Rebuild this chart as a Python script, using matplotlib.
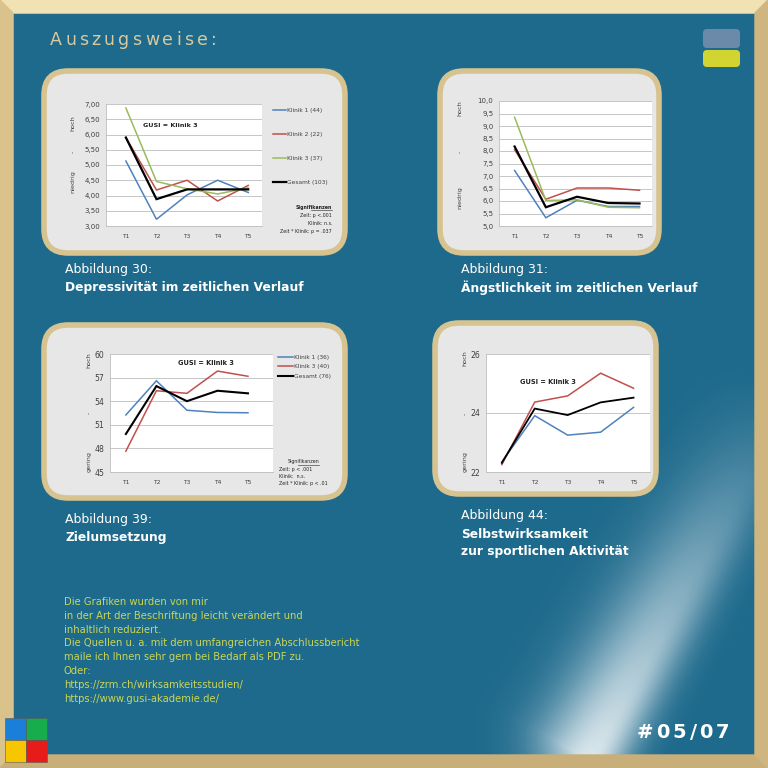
import numpy as np
import matplotlib.pyplot as plt
from matplotlib.patches import FancyBboxPatch, Polygon, Rectangle

# data
zeitpunkte = ['T1', 'T2', 'T3', 'T4', 'T5']

# Abbildung 30: Depressivitaet
dep_klinik1 = [5.13, 3.22, 4.02, 4.50, 4.10]
dep_klinik2 = [5.90, 4.18, 4.50, 3.82, 4.33]
dep_klinik3 = [6.87, 4.46, 4.22, 4.05, 4.25]
dep_gesamt = [5.90, 3.88, 4.20, 4.20, 4.20]
dep_labels = ['Klinik 1 (44)', 'Klinik 2 (22)', 'Klinik 3 (37)', 'Gesamt (103)']

# Abbildung 31: Aengstlichkeit
angst_klinik1 = [7.22, 5.33, 6.03, 5.78, 5.78]
angst_klinik2 = [8.05, 6.07, 6.52, 6.52, 6.43]
angst_klinik3 = [9.35, 6.02, 6.05, 5.75, 5.73]
angst_gesamt = [8.18, 5.75, 6.17, 5.92, 5.90]

# Abbildung 39: Zielumsetzung
ziel_klinik1 = [52.25, 56.60, 52.85, 52.57, 52.53]
ziel_klinik3 = [47.65, 55.33, 55.00, 57.83, 57.17]
ziel_gesamt = [49.83, 55.92, 54.00, 55.33, 55.00]
ziel_labels = ['Klinik 1 (36)', 'Klinik 3 (40)', 'Gesamt (76)']

# Abbildung 44: Selbstwirksamkeit
selbst_klinik1 = [22.34, 23.91, 23.25, 23.35, 24.19]
selbst_klinik3 = [22.25, 24.37, 24.58, 25.35, 24.84]
selbst_gesamt = [22.31, 24.15, 23.93, 24.36, 24.52]

fussnote = [
    'Die Grafiken wurden von mir',
    'in der Art der Beschriftung leicht verändert und',
    'inhaltlich reduziert.',
    'Die Quellen u. a. mit dem umfangreichen Abschlussbericht',
    'maile ich Ihnen sehr gern bei Bedarf als PDF zu.',
    'Oder:',
    'https://zrm.ch/wirksamkeitsstudien/',
    'https://www.gusi-akademie.de/',
]

BLAU = '#4f81bd'
ROT = '#c0504d'
GRUEN = '#9bbb59'
GRAU = '#404040'
HINTERGRUND = '#1e6a8c'

W = 768
fig = plt.figure(figsize=(7.68, 7.68), dpi=100)
fig.patch.set_facecolor('#dcc690')
bg = fig.add_axes([0, 0, 1, 1])
bg.set_xlim(0, W)
bg.set_ylim(W, 0)
bg.axis('off')

# blue board
bg.add_patch(Rectangle((13, 13), W - 26, W - 26, facecolor=HINTERGRUND,
                       edgecolor='#7d6c45', lw=0.8, zorder=0))

# glare in the lower right corner
yy, xx = np.mgrid[0:W, 0:W].astype(float)
p0 = np.array([590.0, 760.0])
p1 = np.array([750.0, 470.0])
d = (p1 - p0) / np.linalg.norm(p1 - p0)
n = np.array([d[1], -d[0]])
u = (xx - p0[0]) * d[0] + (yy - p0[1]) * d[1]
v = (xx - p0[0]) * n[0] + (yy - p0[1]) * n[1]
sig = np.where(v < 0, 32.0, 58.0)
along = np.clip(1.0 - u / 420.0, 0, 1) * np.clip((u + 60) / 60.0, 0, 1)
alpha = 0.85 * np.exp(-(v / sig) ** 2) * along
img = np.ones((W, W, 4))
img[..., 3] = alpha
bg.imshow(img, extent=(0, W, W, 0), zorder=0.5, aspect='auto', interpolation='bilinear')
bg.set_xlim(0, W)
bg.set_ylim(W, 0)

# gold frame
bg.add_patch(Polygon([(0, 0), (W, 0), (W - 13, 13), (13, 13)], color='#f1e2b4', zorder=3))
bg.add_patch(Polygon([(0, 0), (13, 13), (13, W - 13), (0, W)], color='#d9c28c', zorder=3))
bg.add_patch(Polygon([(0, W), (13, W - 13), (W - 13, W - 13), (W, W)], color='#c8ae78', zorder=3))
bg.add_patch(Polygon([(W, 0), (W, W), (W - 13, W - 13), (W - 13, 13)], color='#cfb680', zorder=3))

# panels
panels = [(41, 68, 348, 256), (437, 68, 662, 256), (41, 322, 348, 501), (432, 320, 659, 497)]
for x0, y0, x1, y1 in panels:
    bg.add_patch(FancyBboxPatch((x0 + 3, y0 + 3), x1 - x0 - 6, y1 - y0 - 6,
                                boxstyle='round,pad=0,rounding_size=24',
                                facecolor='#e7e7e7', edgecolor='#d6c38f', lw=4.0, zorder=2))


def spaced(x, y, s, track, **kw):
    r = fig.canvas.get_renderer()
    for ch in s:
        t = bg.text(x, y, ch, ha='left', va='center', zorder=5, **kw)
        x += t.get_window_extent(r).width + track


spaced(50, 40, 'Auszugsweise:', 3.2, fontsize=12.5, color='#d9c99c')
spaced(637, 733, '#05/07', 3.0, fontsize=14, color='white', fontweight='bold')

# corner icons
bg.add_patch(FancyBboxPatch((703, 29), 37, 19, boxstyle='round,pad=0,rounding_size=4',
                            facecolor='#6b89a8', edgecolor='none', zorder=4))
bg.add_patch(FancyBboxPatch((703, 50), 37, 17, boxstyle='round,pad=0,rounding_size=4',
                            facecolor='#d2d531', edgecolor='none', zorder=4))
for (x, y), c in zip([(5, 718), (26, 718), (5, 740), (26, 740)],
                     ['#1a7fd8', '#17ad4c', '#f7c600', '#e81b1b']):
    bg.add_patch(Rectangle((x, y), 21, 22, facecolor=c, edgecolor='#5a5a5a', lw=0.4, zorder=4))


def px_axes(x0, y0, x1, y1):
    return fig.add_axes([x0 / W, 1 - y1 / W, (x1 - x0) / W, (y1 - y0) / W])


def chart(box, series, farben, breiten, ylim, yticks, fmt, xlim, labels=None):
    ax = px_axes(*box)
    ax.set_facecolor('white')
    x = np.arange(1, len(zeitpunkte) + 1)
    for ys, c, lw, lab in zip(series, farben, breiten, labels or [None] * len(series)):
        ax.plot(x, ys, color=c, lw=lw, label=lab, solid_joinstyle='miter', zorder=3)
    ax.set_xlim(*xlim)
    ax.set_ylim(*ylim)
    ax.set_yticks(yticks)
    ax.set_yticklabels([fmt(t) for t in yticks])
    ax.set_xticks(x)
    ax.set_xticklabels(zeitpunkte)
    ax.tick_params(length=0, labelsize=5, colors=GRAU, pad=4)
    ax.tick_params(axis='x', labelsize=4.3, pad=6)
    ax.grid(axis='y', color='#bdbdbd', lw=0.6)
    ax.set_axisbelow(True)
    for s in ['top', 'right']:
        ax.spines[s].set_visible(False)
    for s in ['left', 'bottom']:
        ax.spines[s].set_color('#bdbdbd')
        ax.spines[s].set_linewidth(0.6)
    return ax


def komma(nk):
    return lambda t: f'{t:.{nk}f}'.replace('.', ',')


# Abbildung 30
ax1 = chart((106, 104, 262, 226), [dep_klinik1, dep_klinik2, dep_klinik3, dep_gesamt],
            [BLAU, ROT, GRUEN, 'black'], [1.1, 1.1, 1.1, 1.6],
            (3, 7), np.arange(3, 7.01, 0.5), komma(2), (0.35, 5.45), dep_labels)
ax1.text(0.24, 0.82, 'GUSI = Klinik 3', transform=ax1.transAxes, fontsize=4.6,
         fontweight='bold', color='#222222', va='center')
ax1.legend(loc='upper left', bbox_to_anchor=(1.07, 0.965), frameon=False, fontsize=4.2,
           labelspacing=3.25, handlelength=2.3, handletextpad=0.1, borderpad=0,
           borderaxespad=0, labelcolor=GRAU)

# Abbildung 31
ax2 = chart((499, 101, 652, 226), [angst_klinik1, angst_klinik2, angst_klinik3, angst_gesamt],
            [BLAU, ROT, GRUEN, 'black'], [1.1, 1.1, 1.1, 1.6],
            (5, 10), np.arange(5, 10.01, 0.5), komma(1), (0.5, 5.4))

# Abbildung 39
ax3 = chart((110, 354, 273, 472), [ziel_klinik1, ziel_klinik3, ziel_gesamt],
            [BLAU, ROT, 'black'], [1.1, 1.1, 1.5],
            (45, 60), np.arange(45, 61, 3), lambda t: f'{t:.0f}', (0.48, 5.82), ziel_labels)
ax3.tick_params(axis='y', labelsize=5.6)
ax3.text(0.42, 0.92, 'GUSI = Klinik 3', transform=ax3.transAxes, fontsize=4.8,
         fontweight='bold', color='#222222', va='center')
ax3.legend(loc='upper left', bbox_to_anchor=(1.03, 0.99), frameon=False, fontsize=4.2,
           labelspacing=0.7, handlelength=2.6, handletextpad=0.1, borderpad=0,
           borderaxespad=0, labelcolor=GRAU)

# Abbildung 44
ax4 = chart((486, 354, 650, 472), [selbst_klinik1, selbst_klinik3, selbst_gesamt],
            [BLAU, ROT, 'black'], [1.1, 1.1, 1.3],
            (22, 26), [22, 24, 26], lambda t: f'{t:.0f}', (0.52, 5.5))
ax4.tick_params(axis='y', labelsize=5.6)
ax4.text(0.21, 0.76, 'GUSI = Klinik 3', transform=ax4.transAxes, fontsize=4.8,
         fontweight='bold', color='#222222', va='center')

# axis side labels
for x, ys, unten in [(73, (123, 152, 182), 'niedrig'), (460, (108, 152, 198), 'niedrig'),
                     (89, (360, 413, 462), 'gering'), (465, (358, 414, 462), 'gering')]:
    for y, s in zip(ys, ['hoch', '-', unten]):
        bg.text(x, y, s, rotation=90, ha='center', va='center', fontsize=4.6,
                color=GRAU, zorder=5)

# significance notes
sig1 = ['Zeit: p <.001', 'Klinik: n.s.', 'Zeit * Klinik: p = .037']
bg.text(332, 207, 'Signifikanzen', ha='right', va='center', fontsize=3.4,
        color='#222222', fontweight='bold', zorder=5)
bg.plot([311, 332], [209.5, 209.5], color='#222222', lw=0.4, zorder=5)
for y, s in zip([216, 223.5, 231], sig1):
    bg.text(332, y, s, ha='right', va='center', fontsize=3.4, color='#222222', zorder=5)

sig3 = ['Zeit: p < .001', 'Klinik:  n.s.', 'Zeit * Klinik: p < .01']
bg.text(319, 462, 'Signifikanzen', ha='right', va='center', fontsize=3.4,
        color='#222222', zorder=5)
bg.plot([298, 319], [464.5, 464.5], color='#222222', lw=0.4, zorder=5)
for y, s in zip([469, 476, 483], sig3):
    bg.text(279, y, s, ha='left', va='center', fontsize=3.4, color='#222222', zorder=5)

# captions
captions = [
    (65, 270, 'Abbildung 30:', ['Depressivität im zeitlichen Verlauf']),
    (461, 270, 'Abbildung 31:', ['Ängstlichkeit im zeitlichen Verlauf']),
    (65, 519, 'Abbildung 39:', ['Zielumsetzung']),
    (461, 516, 'Abbildung 44:', ['Selbstwirksamkeit', 'zur sportlichen Aktivität']),
]
for x, y, kopf, zeilen in captions:
    bg.text(x, y, kopf, ha='left', va='center', fontsize=9, color='white', zorder=5)
    for i, z in enumerate(zeilen):
        bg.text(x, y + 18 + 17 * i, z, ha='left', va='center', fontsize=8.8,
                fontweight='bold', color='white', zorder=5)

# footnote
for i, z in enumerate(fussnote):
    bg.text(64, 602 + 13.8 * i, z, ha='left', va='center', fontsize=7.2,
            color='#c9d656', zorder=5)

fig.savefig('out.png', dpi=100, facecolor=fig.get_facecolor())
